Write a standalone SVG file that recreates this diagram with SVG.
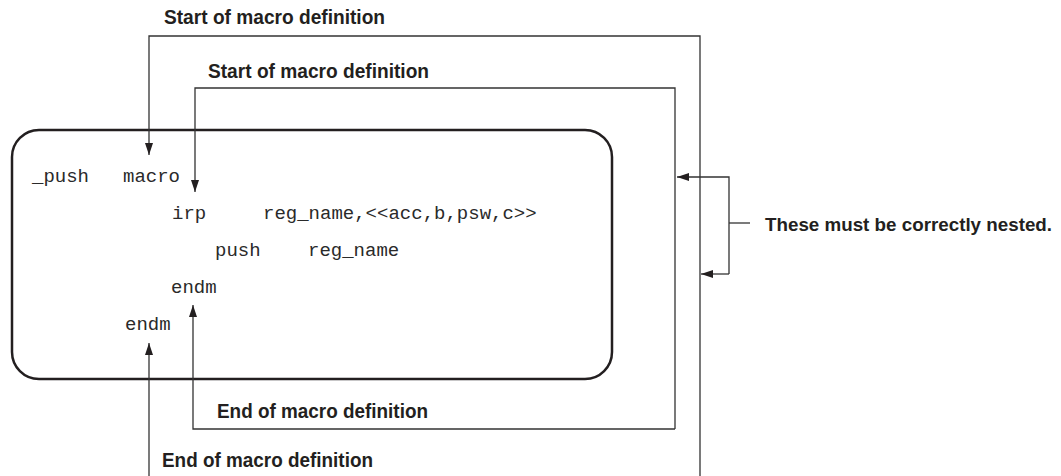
<svg xmlns="http://www.w3.org/2000/svg" width="1061" height="476" viewBox="0 0 1061 476">
<style>
.lbl{font-family:"Liberation Sans",Arial,sans-serif;font-weight:bold;font-size:20px;fill:#231f20}
.note{font-size:18.8px}
.code{font-family:"Liberation Mono","Courier New",monospace;font-size:19px;fill:#2a2a2a}
.ln{fill:none;stroke:#333;stroke-width:1.3}
</style>
<defs>
<marker id="ah" viewBox="0 0 12 8" refX="12" refY="4" markerWidth="12" markerHeight="8" markerUnits="userSpaceOnUse" orient="auto">
<path d="M0,0 L12,4 L0,8 z" fill="#231f20"/>
</marker>
</defs>
<rect width="1061" height="476" fill="#fff"/>
<g id="code-box">
<rect x="12" y="130" width="600" height="249" rx="27" ry="27" fill="none" stroke="#231f20" stroke-width="2.5"/>
<text class="code" x="32" y="182">_push</text>
<text class="code" x="123" y="182">macro</text>
<text class="code" x="172" y="219">irp</text>
<text class="code" x="263" y="219">reg_name,&lt;&lt;acc,b,psw,c&gt;&gt;</text>
<text class="code" x="215" y="256">push</text>
<text class="code" x="308" y="256">reg_name</text>
<text class="code" x="171" y="293">endm</text>
<text class="code" x="125" y="330">endm</text>
</g>
<g id="labels">
<text class="lbl" x="164" y="24" textLength="221" lengthAdjust="spacingAndGlyphs">Start of macro definition</text>
<text class="lbl" x="208" y="78" textLength="221" lengthAdjust="spacingAndGlyphs">Start of macro definition</text>
<text class="lbl" x="217" y="418" textLength="211" lengthAdjust="spacingAndGlyphs">End of macro definition</text>
<text class="lbl" x="162" y="467" textLength="211" lengthAdjust="spacingAndGlyphs">End of macro definition</text>
<text class="lbl note" x="765" y="231">These must be correctly nested.</text>
</g>
<g id="connectors">
<path class="ln" d="M700,476 V36 H149 V155" marker-end="url(#ah)"/>
<path class="ln" d="M149,476 V343" marker-end="url(#ah)"/>
<path class="ln" d="M675,429 V88 H195 V192" marker-end="url(#ah)"/>
<path class="ln" d="M675,429 H193 V305" marker-end="url(#ah)"/>
<path class="ln" d="M729,274 V177 H677" marker-end="url(#ah)"/>
<path class="ln" d="M729,274 H701" marker-end="url(#ah)"/>
<path class="ln" d="M729,223 H750"/>
</g>
</svg>
